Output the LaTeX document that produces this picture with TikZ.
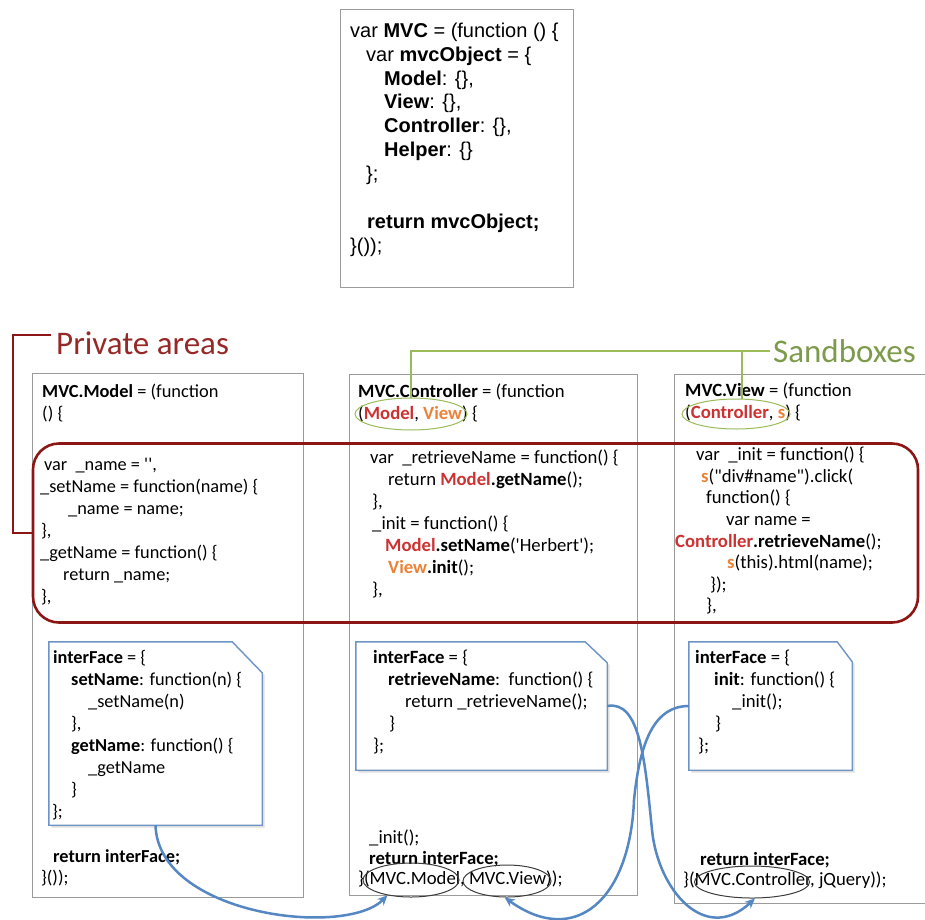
\documentclass[tikz,border=0pt]{standalone}
\usepackage{fontspec}
\setmainfont{Carlito}
\newfontfamily\arialf{Liberation Sans}
\usetikzlibrary{shapes.geometric,arrows.meta}

\definecolor{privred}{RGB}{140,22,22}
\definecolor{privtext}{RGB}{150,40,40}
\definecolor{sandgreen}{RGB}{155,187,89}
\definecolor{sandtext}{RGB}{125,155,75}
\definecolor{ifblue}{RGB}{110,148,198}
\definecolor{arrowblue}{RGB}{85,135,195}
\definecolor{cred}{RGB}{205,50,50}
\definecolor{corange}{RGB}{235,130,55}
\definecolor{boxgray}{RGB}{155,155,155}
\definecolor{ellgray}{RGB}{60,60,60}

\newcommand{\fstrut}{\rule{0pt}{15pt}}
\newcommand{\chamfpath}[3]{(#1.south west) -- (#1.north west) -- ([xshift=-#2]#1.north east) -- ([yshift=-#3]#1.north east) -- (#1.south east) -- cycle}
\newcommand{\chamfshadow}[3]{([xshift=2.5pt,yshift=-2.5pt]#1.south west) -- ([xshift=2.5pt,yshift=-2.5pt]#1.north west) -- ([xshift=-#2+2.5pt,yshift=-2.5pt]#1.north east) -- ([xshift=2.5pt,yshift=-#3-2.5pt]#1.north east) -- ([xshift=2.5pt,yshift=-2.5pt]#1.south east) -- cycle}

\tikzset{
  codebox/.style={draw=boxgray, line width=1pt, fill=white, inner sep=0pt},
  ifbox/.style={inner sep=0pt, draw=none},
  ifline/.style={draw=ifblue, line width=1.4pt, fill=white},
  ifshade/.style={fill=black, opacity=0.13, draw=none},
  codetext/.style 2 args={anchor=north west, inner sep=0pt, align=left, font=\fontsize{#1}{#2}\selectfont},
  privline/.style={draw=privred, line width=2.6pt},
  sandline/.style={draw=sandgreen, line width=2.2pt},
  sandell/.style={ellipse, draw=sandgreen, line width=1pt, inner sep=0pt},
  callell/.style={ellipse, draw=ellgray, line width=1pt, inner sep=0pt},
  flow/.style={draw=arrowblue, line width=2.5pt, -{Stealth[length=10pt,width=9pt]}},
}

\begin{document}
\begin{tikzpicture}[x=1pt,y=-1pt]
\fill[white] (0,0) rectangle (925,919);
\useasboundingbox (0,0) rectangle (925,919);

% ---------- top box ----------
\node[codebox, minimum width=233pt, minimum height=278pt] (topbox) at (456.5,148) {};
\node[anchor=north west, inner sep=0pt, align=left, font=\arialf\fontsize{20pt}{23.9pt}\selectfont] (toptext) at (350,21)
{\rule{0pt}{16pt}var \textbf{MVC} = (function () \{\\
\hspace*{16pt}var \textbf{mvcObject} = \{\\
\hspace*{34pt}\textbf{Model}: \{\},\\
\hspace*{34pt}\textbf{View}: \{\},\\
\hspace*{34pt}\textbf{Controller}: \{\},\\
\hspace*{34pt}\textbf{Helper}: \{\}\\
\hspace*{16pt}\};\\[23.9pt]
\hspace*{17pt}\textbf{return mvcObject;}\\
\}());};

% ---------- module boxes ----------
\node[codebox, minimum width=271pt, minimum height=524pt] (boxM) at (167.5,635) {};
\node[codebox, minimum width=288pt, minimum height=521pt] (boxC) at (493,634.5) {};
\node[codebox, minimum width=262pt, minimum height=529pt] (boxV) at (805,638.5) {};

% ---------- interface boxes ----------
\node[ifbox, minimum width=213pt, minimum height=183pt] (ifM) at (155.5,733.5) {};
\node[ifbox, minimum width=251pt, minimum height=128pt] (ifC) at (481.5,706) {};
\node[ifbox, minimum width=163pt, minimum height=128pt] (ifV) at (770.5,706) {};
\fill[ifshade] \chamfshadow{ifM}{30pt}{31pt};
\fill[ifshade] \chamfshadow{ifC}{22pt}{21pt};
\fill[ifshade] \chamfshadow{ifV}{15pt}{20pt};
\draw[ifline] \chamfpath{ifM}{30pt}{31pt};
\draw[ifline] \chamfpath{ifC}{22pt}{21pt};
\draw[ifline] \chamfpath{ifV}{15pt}{20pt};

% ---------- Model texts ----------
\node[codetext={18.4pt}{21.5pt}] (mTitle) at (42,382.5)
{\fstrut\textbf{MVC.Model} = (function\\ () \{};
\node[codetext={18.3pt}{22pt}] (mPriv) at (40,455)
{\fstrut\hspace*{4pt}var\ \ \_name = \textquotesingle\textquotesingle,\\
\_setName = function(name) \{\\
\hspace*{28pt}\_name = name;\\
\hspace*{1pt}\},\\
\_getName = function() \{\\
\hspace*{23pt}return \_name;\\
\hspace*{1pt}\},};
\node[codetext={18.3pt}{22pt}] (mIf) at (52,648.5)
{\fstrut\hspace*{1pt}\textbf{interFace} = \{\\
\hspace*{19pt}\textbf{setName}: function(n) \{\\
\hspace*{36pt}\_setName(n)\\
\hspace*{19pt}\},\\
\hspace*{19pt}\textbf{getName}: function() \{\\
\hspace*{36pt}\_getName\\
\hspace*{19pt}\}\\
\};};
\node[codetext={18.3pt}{21pt}] (mRet) at (41,847.5)
{\fstrut\hspace*{12pt}\textbf{return interFace;}\\
\}());};

% ---------- Controller texts ----------
\node[codetext={18.7pt}{21.5pt}] (cTitle) at (358,382.5)
{\fstrut\textbf{MVC.Controller} = (function\\
(\textbf{\color{cred}Model}, \textbf{\color{corange}View}) \{};
\node[codetext={18.7pt}{22pt}] (cPriv) at (370,448.5)
{\fstrut var\ \ \_retrieveName = function() \{\\
\hspace*{18pt}return \textbf{{\color{cred}Model}.getName}();\\
\hspace*{2pt}\},\\
\hspace*{2pt}\_init = function() \{\\
\hspace*{15pt}\textbf{{\color{cred}Model}.setName}(\textquotesingle Herbert\textquotesingle);\\
\hspace*{18pt}\textbf{{\color{corange}View}.init}();\\
\hspace*{2pt}\},};
\node[codetext={18.7pt}{22pt}] (cIf) at (373,648.5)
{\fstrut\textbf{interFace} = \{\\
\hspace*{15pt}\textbf{retrieveName}:\ \ function() \{\\
\hspace*{32pt}return \_retrieveName();\\
\hspace*{16pt}\}\\
\};};
\node[codetext={18.7pt}{20.5pt}] (cRet) at (358,828.5)
{\fstrut\hspace*{11pt}\_init();\\
\hspace*{11pt}\textbf{return interFace;}\\
\}(MVC.Model, MVC.View));};

% ---------- View texts ----------
\node[codetext={18.7pt}{22pt}] (vTitle) at (685,381)
{\fstrut\textbf{MVC.View} = (function\\
(\textbf{\color{cred}Controller}, \textbf{\color{corange}s}) \{};
\node[codetext={18.7pt}{21.6pt}] (vPriv) at (675,445.5)
{\fstrut\hspace*{21pt}var\ \ \_init = function() \{\\
\hspace*{26pt}\textbf{\color{corange}s}(\textquotedbl div\#name\textquotedbl).click(\\
\hspace*{31pt}function() \{\\
\hspace*{51pt}var name =\\
\textbf{{\color{cred}Controller}.retrieveName}();\\
\hspace*{52pt}\textbf{\color{corange}s}(this).html(name);\\
\hspace*{35pt}\});\\
\hspace*{31pt}\},};
\node[codetext={18.7pt}{22pt}] (vIf) at (695,648.5)
{\fstrut\textbf{interFace} = \{\\
\hspace*{19pt}\textbf{init}: function() \{\\
\hspace*{37pt}\_init();\\
\hspace*{20pt}\}\\
\hspace*{3pt}\};};
\node[codetext={18.7pt}{20pt}] (vRet) at (683,850.5)
{\fstrut\hspace*{17pt}\textbf{return interFace;}\\
\}(MVC.Controller, jQuery));};

% ---------- private area ----------
\node[draw=privred, line width=2.6pt, rounded corners=26pt, minimum width=885pt, minimum height=179pt, inner sep=0pt] (priv) at (475.5,533) {};
\node[anchor=west, inner sep=3pt, text=privtext, font=\fontsize{33pt}{36pt}\selectfont] (privlbl) at (53,343) {Private areas};
\coordinate (pa) at (51,335);
\draw[privline] (pa) -- ++(-38,0) |- (priv.west);

% ---------- sandboxes ----------
\node[sandell, minimum width=112pt, minimum height=32pt] (gC) at (411,414) {};
\node[sandell, minimum width=108pt, minimum height=30pt] (gV) at (736,414) {};
\node[anchor=west, inner sep=3pt, text=sandtext, font=\fontsize{33pt}{36pt}\selectfont] (sbl) at (770,351) {Sandboxes};
\draw[sandline] (sbl.west) -- (gC.north |- sbl.west) -- (gC.north);
\draw[sandline] (gV.70 |- sbl.west) -- (gV.70);

% ---------- call ellipses ----------
\node[callell, minimum width=96pt, minimum height=34pt] (elCM) at (411,880) {};
\node[callell, minimum width=88pt, minimum height=32pt] (elCV) at (507,881) {};
\node[callell, minimum width=115pt, minimum height=32pt] (elVC) at (752,882) {};

% ---------- flows ----------
\draw[flow] (ifM.south) .. controls (158,915) and (345,938) .. (elCM.213);
\draw[flow] (ifC.east) .. controls (640,700) and (645,760) .. (652,830)
  .. controls (658,890) and (705,945) .. (elVC.280);
\draw[flow] (ifV.west) .. controls (655,706) and (640,740) .. (634,800)
  .. controls (630,900) and (575,948) .. (elCV.262);
\end{tikzpicture}
\end{document}
